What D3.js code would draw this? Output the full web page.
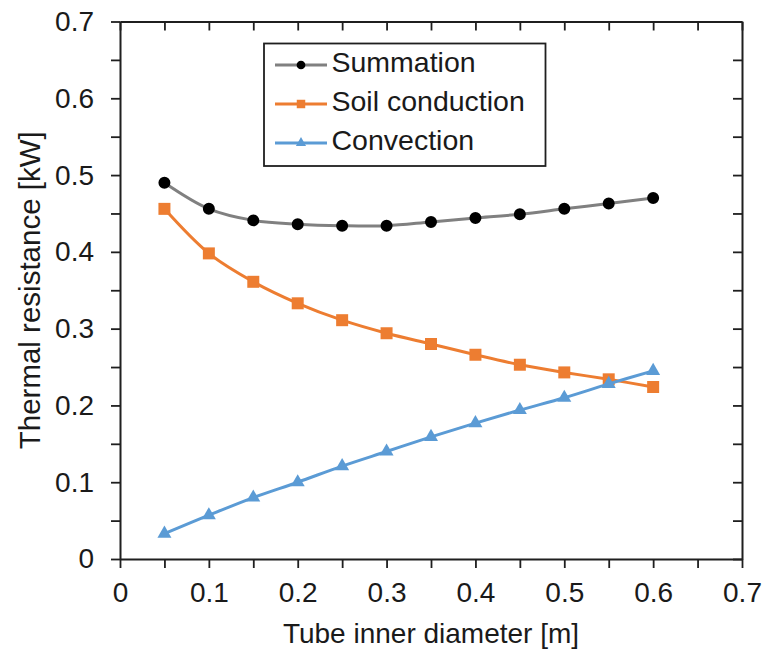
<!DOCTYPE html>
<html>
<head>
<meta charset="utf-8">
<script src="https://cdn.jsdelivr.net/npm/d3@7"></script>
<style>
  html, body { margin: 0; padding: 0; background: #fff; }
  svg { display: block; font-family: "Liberation Sans", Arial, sans-serif; }
</style>
</head>
<body>
<svg id="chart" width="765" height="653"></svg>
<script>
// ---- data ----
const diameters = [0.05, 0.10, 0.15, 0.20, 0.25, 0.30, 0.35, 0.40, 0.45, 0.50, 0.55, 0.60];
const summation = [0.490, 0.456, 0.441, 0.436, 0.434, 0.434, 0.439, 0.444, 0.449, 0.456, 0.463, 0.470];
const soilConduction = [0.456, 0.398, 0.361, 0.333, 0.311, 0.294, 0.280, 0.266, 0.253, 0.243, 0.234, 0.224];
const convection = [0.033, 0.057, 0.080, 0.100, 0.121, 0.140, 0.159, 0.177, 0.194, 0.210, 0.228, 0.245];
const seriesNames = ["Summation", "Soil conduction", "Convection"];
const xTicks = [0, 0.05, 0.1, 0.15, 0.2, 0.25, 0.3, 0.35, 0.4, 0.45, 0.5, 0.55, 0.6, 0.65, 0.7];
const yTicks = [0, 0.05, 0.1, 0.15, 0.2, 0.25, 0.3, 0.35, 0.4, 0.45, 0.5, 0.55, 0.6, 0.65, 0.7];
const xTitle = "Tube inner diameter [m]";
const yTitle = "Thermal resistance [kW]";

// ---- layout ----
const L = 120, R = 742, T = 21.5, B = 559;
const svg = d3.select("#chart");
const x = d3.scaleLinear().domain([0, 0.7]).range([L, R]);
const y = d3.scaleLinear().domain([0, 0.7]).range([B, T]);
const axisColor = "#1f1f1f";
const textColor = "#1a1a1a";
const fmt = v => {
  const r = Math.round(v * 100);
  if (r % 10 !== 0) return "";
  return r === 0 ? "0" : d3.format(".1f")(v);
};

function styleAxis(g) {
  g.select(".domain").attr("stroke", axisColor).attr("stroke-width", 2);
  g.selectAll(".tick line").attr("stroke", axisColor).attr("stroke-width", 1.8);
  g.selectAll(".tick text").attr("fill", textColor).attr("font-size", 28)
    .attr("font-family", "'Liberation Sans', Arial, sans-serif");
}

// bottom axis
svg.append("g").attr("transform", `translate(0,${B})`)
  .call(d3.axisBottom(x).tickValues(xTicks).tickFormat(fmt).tickSizeInner(9).tickSizeOuter(0).tickPadding(14))
  .call(styleAxis)
  .call(g => g.selectAll(".tick text").attr("dy", "0.71em"));
// top axis (inward ticks)
svg.append("g").attr("transform", `translate(0,${T})`)
  .call(d3.axisTop(x).tickValues(xTicks).tickFormat("").tickSizeInner(-9).tickSizeOuter(0))
  .call(styleAxis);
// left axis
svg.append("g").attr("transform", `translate(${L},0)`)
  .call(d3.axisLeft(y).tickValues(yTicks).tickFormat(fmt).tickSizeInner(9).tickSizeOuter(0).tickPadding(17))
  .call(styleAxis);
// right axis (inward ticks)
svg.append("g").attr("transform", `translate(${R},0)`)
  .call(d3.axisRight(y).tickValues(yTicks).tickFormat("").tickSizeInner(-9).tickSizeOuter(0))
  .call(styleAxis);

// axis titles
svg.append("text").attr("x", (L + R) / 2).attr("y", 643)
  .attr("text-anchor", "middle").attr("font-size", 28).attr("fill", textColor).text(xTitle);
svg.append("text").attr("transform", `translate(39.5,${(T + B) / 2}) rotate(-90)`)
  .attr("text-anchor", "middle").attr("font-size", 29.5).attr("fill", textColor).text(yTitle);

// ---- series ----
const series = [
  { name: seriesNames[0], values: summation, line: "#808080", mark: "#000000", symbol: d3.symbolCircle, size: 113, lsize: 60, curve: d3.curveCatmullRom.alpha(0.5) },
  { name: seriesNames[1], values: soilConduction, line: "#ED7D31", mark: "#ED7D31", symbol: d3.symbolSquare, size: 144, lsize: 72, curve: d3.curveCatmullRom.alpha(0.5) },
  { name: seriesNames[2], values: convection, line: "#5B9BD5", mark: "#5B9BD5", symbol: d3.symbolTriangle, size: 85, lsize: 45, curve: d3.curveCatmullRom.alpha(0.5) }
];

series.forEach(s => {
  const pts = diameters.map((d, i) => [d, s.values[i]]);
  const line = d3.line().x(d => x(d[0])).y(d => y(d[1])).curve(s.curve);
  svg.append("path").datum(pts).attr("d", line)
    .attr("fill", "none").attr("stroke", s.line).attr("stroke-width", 3);
  svg.append("g").selectAll("path").data(pts).join("path")
    .attr("transform", d => `translate(${x(d[0])},${y(d[1])})`)
    .attr("d", d3.symbol().type(s.symbol).size(s.size))
    .attr("fill", s.mark);
});

// ---- legend ----
const lg = svg.append("g");
lg.append("rect").attr("x", 264).attr("y", 43.5).attr("width", 281.5).attr("height", 122.5)
  .attr("fill", "#fff").attr("stroke", axisColor).attr("stroke-width", 1.8);
series.forEach((s, i) => {
  const cy = 65 + i * 39;
  lg.append("line").attr("x1", 275).attr("x2", 327).attr("y1", cy).attr("y2", cy)
    .attr("stroke", s.line).attr("stroke-width", 3);
  lg.append("path").attr("transform", `translate(301,${cy})`)
    .attr("d", d3.symbol().type(s.symbol).size(s.lsize)).attr("fill", s.mark);
  lg.append("text").attr("x", 331.5).attr("y", cy + 7).attr("font-size", 28.5)
    .attr("fill", textColor).text(s.name);
});
</script>
</body>
</html>
